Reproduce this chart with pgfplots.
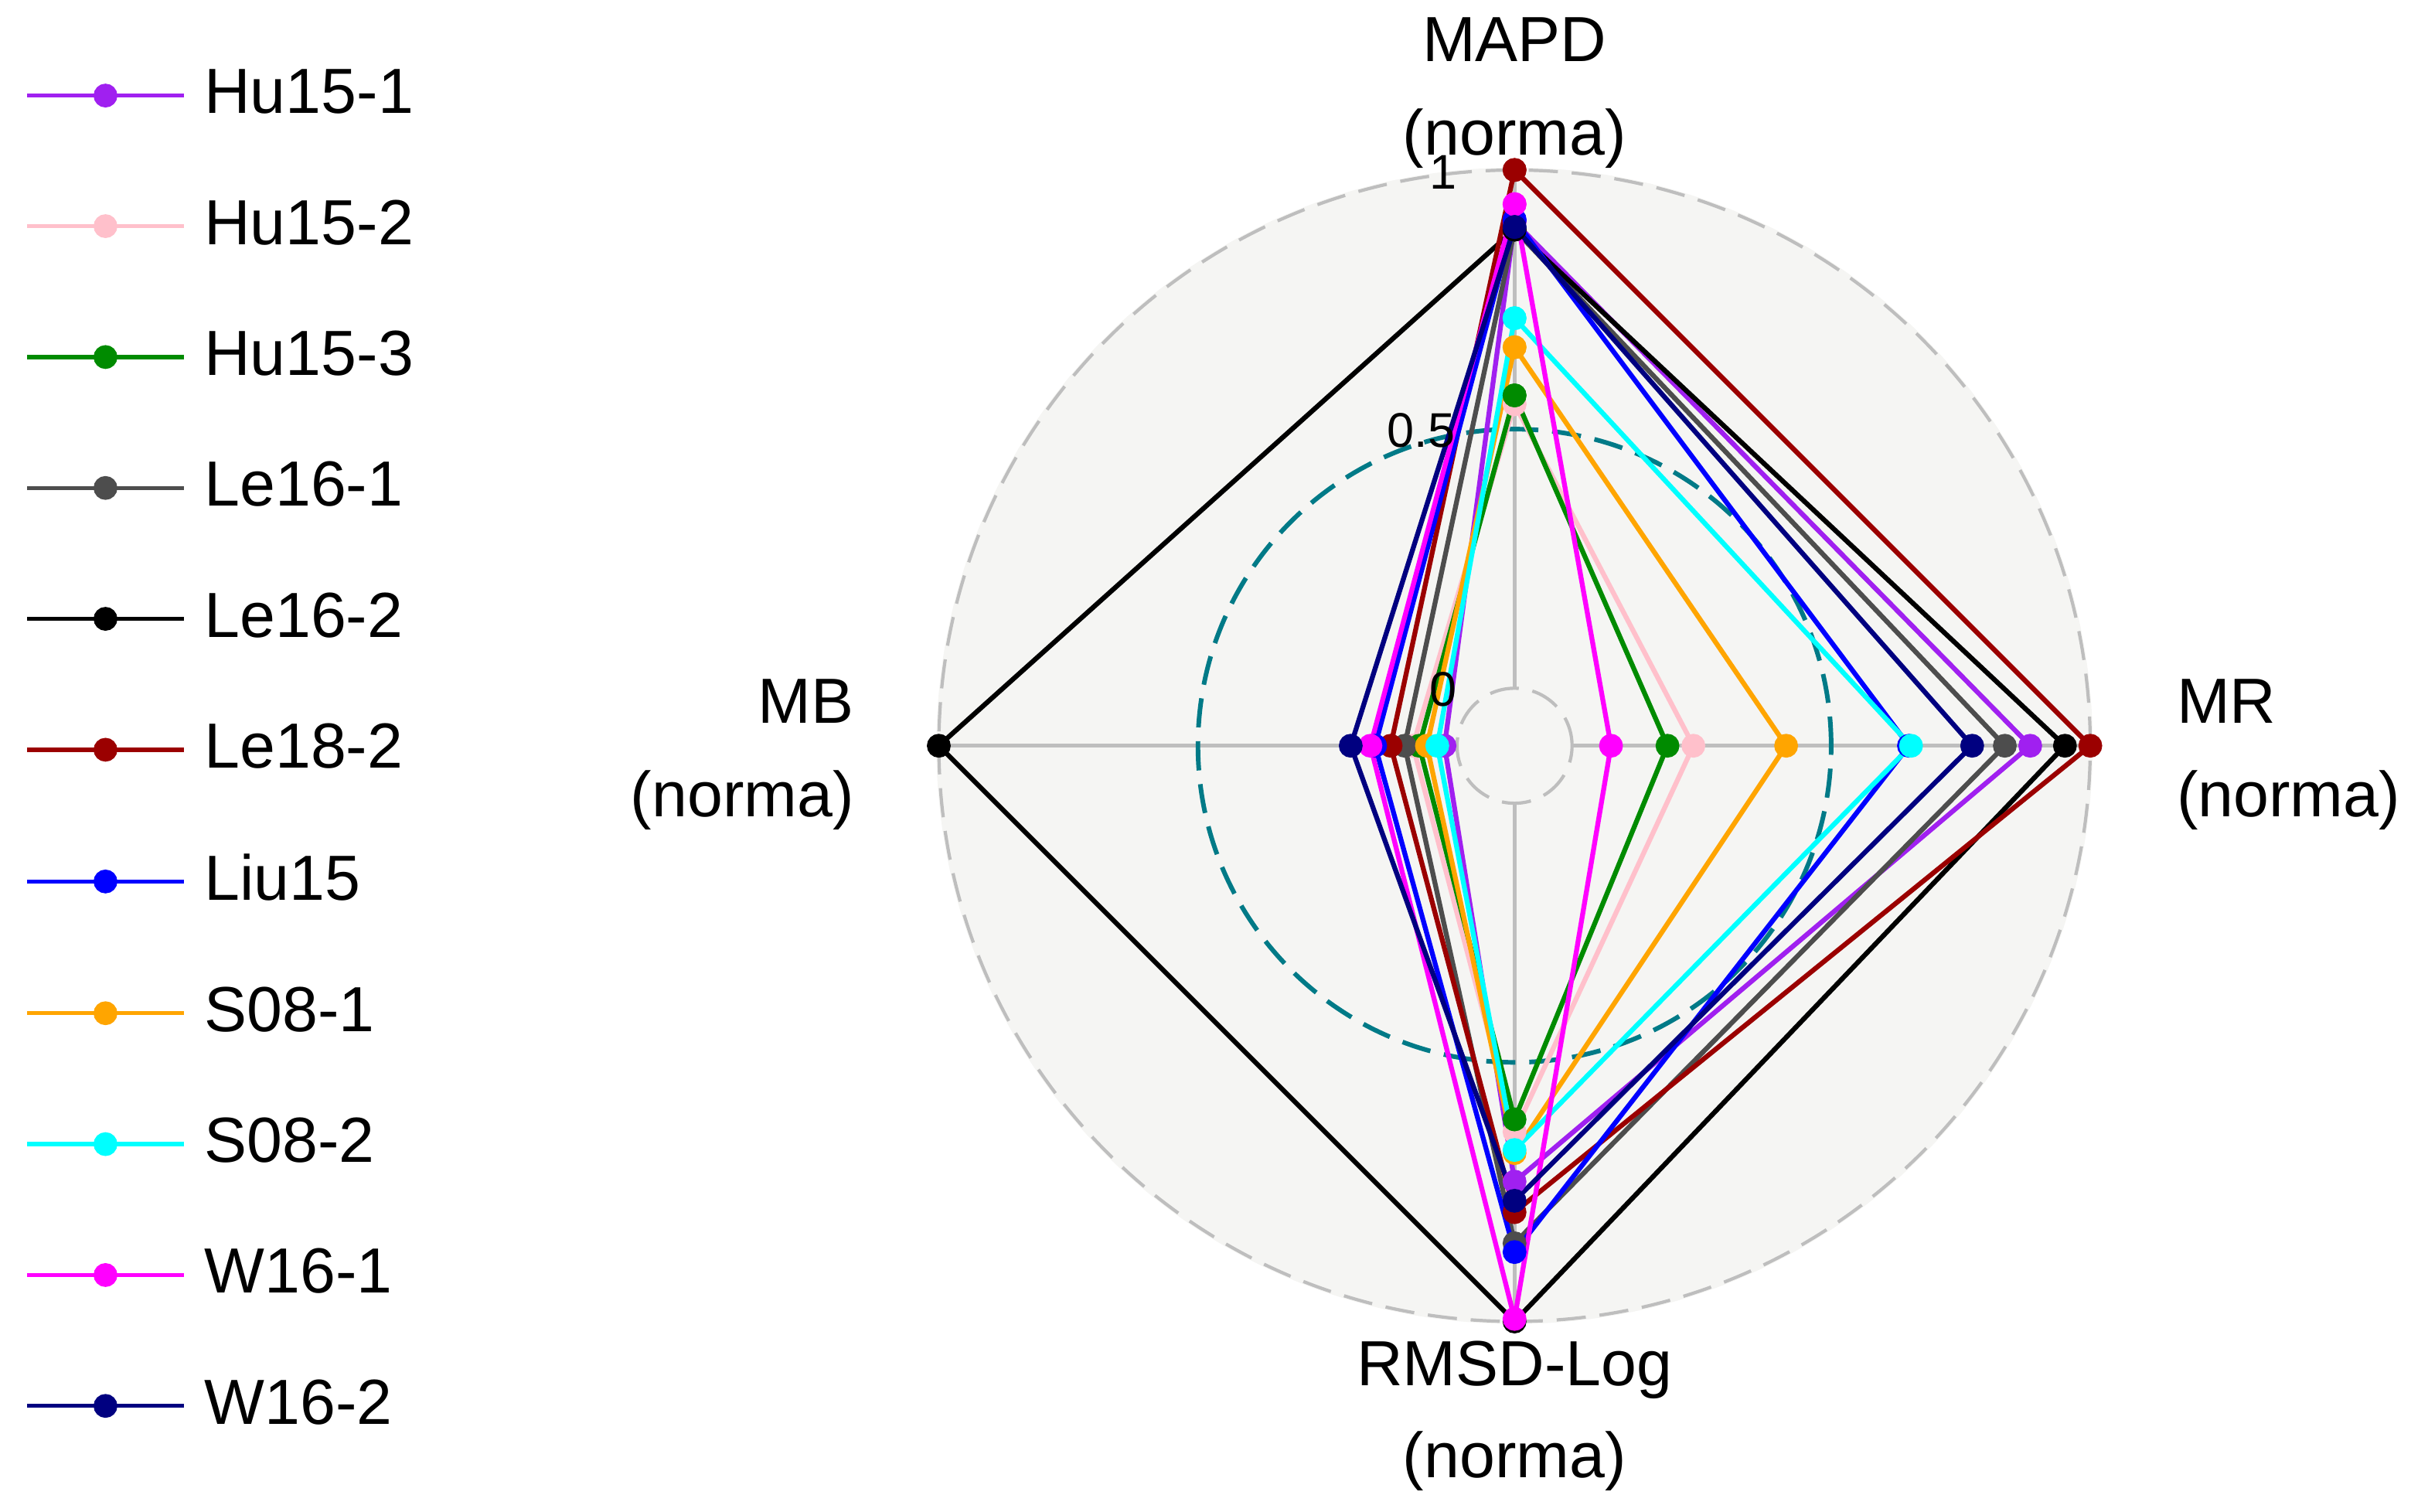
\documentclass[border=0pt]{standalone}
\usepackage{fontspec}
\setmainfont{Liberation Sans}
\usepackage{pgfplots}
\usepackage{pgfplotstable}
\pgfplotsset{compat=1.18}

\definecolor{cHuA}{HTML}{A020F0}
\definecolor{cHuB}{HTML}{FFC0CB}
\definecolor{cHuC}{HTML}{008B00}
\definecolor{cLeA}{HTML}{4D4D4D}
\definecolor{cLeB}{HTML}{000000}
\definecolor{cLeC}{HTML}{9B0000}
\definecolor{cLiu}{HTML}{0000FF}
\definecolor{cSA}{HTML}{FFA500}
\definecolor{cSB}{HTML}{00FFFF}
\definecolor{cWA}{HTML}{FF00FF}
\definecolor{cWB}{HTML}{000080}
\definecolor{gridgray}{HTML}{BEBEBE}
\definecolor{midteal}{HTML}{007A87}
\definecolor{bgc}{HTML}{F5F5F3}

% normalised scores, one column per model; rows: MAPD, MR, RMSD-Log, MB (first row repeated to close)
\pgfplotstableread{
angle Hu15-1 Hu15-2 Hu15-3 Le16-1 Le16-2 Le18-2 Liu15 S08-1 S08-2 W16-1 W16-2
90    0.900  0.548  0.565  0.885  0.885  1.000  0.904 0.658 0.714 0.934 0.890
0     0.884  0.234  0.184  0.835  0.951  1.000  0.650 0.413 0.654 0.075 0.772
270   0.730  0.634  0.610  0.849  1.000  0.789  0.866 0.675 0.669 0.995 0.767
180   0.024  0.085  0.073  0.101  1.000  0.128  0.158 0.058 0.038 0.167 0.205
90    0.900  0.548  0.565  0.885  0.885  1.000  0.904 0.658 0.714 0.934 0.890
}\radar

\def\off{0.1111}
\newcommand{\radarline}[2]{%
  \addplot[color=#1, line width=0.9pt, mark=*, mark size=1.8pt,
    mark options={solid, fill=#1, line width=0.8pt}]
    table[x expr={(\thisrow{#2}+\off)*cos(\thisrow{angle})},
          y expr={(\thisrow{#2}+\off)*sin(\thisrow{angle})}] {\radar};
  \addlegendentry{#2}}

\begin{document}
\begin{tikzpicture}
\useasboundingbox (-9.85,-4.983) rectangle (5.83,4.85);
\begin{axis}[
  at={(0,0)}, anchor=center,
  x=3.37cm, y=3.37cm,
  xmin=-1.2, xmax=1.2, ymin=-1.2, ymax=1.2,
  hide axis, clip=false,
  legend cell align=left,
  legend style={at={(axis description cs:-0.6977,1.0437)}, anchor=north west,
    draw=none, fill=none, inner sep=0pt, outer sep=0pt,
    row sep=0.509cm, column sep=0.12cm,
    font=\fontsize{11.8}{14}\selectfont, nodes={inner sep=0pt}},
  legend image code/.code={%
    \draw[mark repeat=2, mark phase=2, #1, line width=0.75pt]
      plot coordinates {(0cm,0cm) (0.51cm,0cm) (1.02cm,0cm)};},
]
% background and grid
\fill[bgc] (axis cs:0,0) circle[radius=3.76cm];
\draw[gridgray, line width=0.6pt, dash pattern=on 0.19cm off 0.09cm]
  (axis cs:0,0) circle[radius=3.744cm];
\draw[gridgray, line width=0.6pt, dash pattern=on 0.19cm off 0.09cm]
  (axis cs:0,0) circle[radius=0.374cm];
\draw[gridgray, line width=0.7pt] (axis cs:0,0.1111) -- (axis cs:0,1.1111);
\draw[gridgray, line width=0.7pt] (axis cs:0,-0.1111) -- (axis cs:0,-1.1111);
\draw[gridgray, line width=0.7pt] (axis cs:0.1111,0) -- (axis cs:1.1111,0);
\draw[gridgray, line width=0.7pt] (axis cs:-0.1111,0) -- (axis cs:-1.1111,0);
\draw[midteal, line width=0.85pt, dash pattern=on 0.19cm off 0.09cm]
  (axis cs:0,0) circle[radius=2.059cm];

\radarline{cHuA}{Hu15-1}
\radarline{cHuB}{Hu15-2}
\radarline{cHuC}{Hu15-3}
\radarline{cLeA}{Le16-1}
\radarline{cLeB}{Le16-2}
\radarline{cLeC}{Le18-2}
\radarline{cLiu}{Liu15}
\radarline{cSA}{S08-1}
\radarline{cSB}{S08-2}
\radarline{cWA}{W16-1}
\radarline{cWB}{W16-2}
\end{axis}

\begin{scope}[every node/.style={inner sep=0pt, font=\fontsize{11.8}{14}\selectfont}]
\node[anchor=base] at (0,4.448) {MAPD};
\node[anchor=base] at (0,3.844) {(norma)};
\node[anchor=base west] at (4.30,0.147) {MR};
\node[anchor=base west] at (4.30,-0.459) {(norma)};
\node[anchor=base east] at (-4.29,0.147) {MB};
\node[anchor=base east] at (-4.29,-0.459) {(norma)};
\node[anchor=base] at (0,-4.16) {RMSD-Log};
\node[anchor=base] at (0,-4.76) {(norma)};
\end{scope}
\begin{scope}[every node/.style={inner sep=0pt, anchor=base east, font=\fontsize{9}{11}\selectfont}]
\node at (-0.37,3.62) {1};
\node at (-0.38,1.944) {0.5};
\node at (-0.37,0.26) {0};
\end{scope}
\end{tikzpicture}
\end{document}
